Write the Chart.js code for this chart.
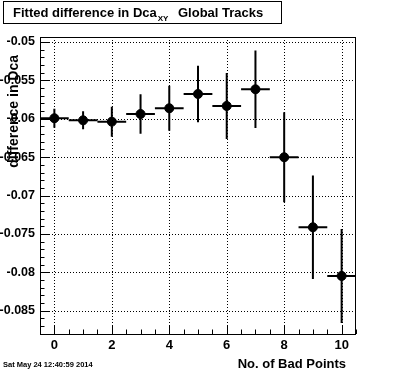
<!DOCTYPE html>
<html>
<head>
<meta charset="utf-8">
<script src="https://cdn.jsdelivr.net/npm/chart.js@4/dist/chart.umd.min.js"></script>
<style>
  html, body { margin: 0; padding: 0; background: #fff; }
  #wrap { width: 396px; height: 372px; position: relative; }
</style>
</head>
<body>
<div id="wrap"><canvas id="chart" width="396" height="372"></canvas></div>
<script>
// values
const badPoints = [0, 1, 2, 3, 4, 5, 6, 7, 8, 9, 10];
const dcaDiff = [-0.05993, -0.0602, -0.06038, -0.05938, -0.05863, -0.05677, -0.05833, -0.05616, -0.06501, -0.07413, -0.08047];
const dcaErr = [0.00124, 0.00117, 0.00195, 0.00256, 0.00294, 0.00368, 0.0043, 0.00505, 0.00586, 0.00673, 0.00612];
const binHalfWidth = 0.5;

const xTickValues = [0, 2, 4, 6, 8, 10];
const yTickValues = [-0.085, -0.08, -0.075, -0.07, -0.065, -0.06, -0.055, -0.05];
const yTickLabels = ['-0.085', '-0.08', '-0.075', '-0.07', '-0.065', '-0.06', '-0.055', '-0.05'];

const titleText = 'Fitted difference in Dca';
const titleSub = 'XY';
const titleRest = 'Global Tracks';
const xTitle = 'No. of Bad Points';
const yTitle = 'difference in Dca';
const dateText = 'Sat May 24 12:40:59 2014';

const FONT = '"Liberation Sans", Arial, Helvetica, sans-serif';

const rootFrame = {
    id: 'rootFrame',
    beforeDatasetsDraw: (chart) => {
        const { ctx, chartArea, scales } = chart;
        const x = scales.x, y = scales.y;
        const L = chartArea.left, R = chartArea.right, T = chartArea.top, B = chartArea.bottom;

        ctx.save();
        // dotted grid
        ctx.strokeStyle = '#000';
        ctx.lineWidth = 1;
        ctx.setLineDash([1, 2]);
        xTickValues.forEach((v) => {
            const px = Math.round(x.getPixelForValue(v)) + 0.5;
            ctx.beginPath(); ctx.moveTo(px, T); ctx.lineTo(px, B); ctx.stroke();
        });
        yTickValues.forEach((v) => {
            const py = Math.round(y.getPixelForValue(v)) + 0.5;
            ctx.beginPath(); ctx.moveTo(L, py); ctx.lineTo(R, py); ctx.stroke();
        });
        ctx.setLineDash([]);

        // ticks inside frame
        ctx.beginPath();
        for (let v = -0.5; v <= 10.5 + 1e-9; v += 0.5) {
            const px = Math.round(x.getPixelForValue(v)) + 0.5;
            const major = Math.abs(v / 2 - Math.round(v / 2)) < 1e-6;
            ctx.moveTo(px, B); ctx.lineTo(px, B - (major ? 9 : 4.5));
        }
        for (let k = -88; k <= -49; k++) {
            const v = k / 1000;
            if (v < y.min || v > y.max) continue;
            const py = Math.round(y.getPixelForValue(v)) + 0.5;
            const major = k % 5 === 0;
            ctx.moveTo(L, py); ctx.lineTo(L + (major ? 9 : 4.5), py);
        }
        ctx.stroke();

        // error bars
        ctx.beginPath();
        ctx.rect(L, T, R - L, B - T);
        ctx.clip();
        ctx.lineWidth = 2;
        ctx.beginPath();
        badPoints.forEach((b, i) => {
            const cx = x.getPixelForValue(b);
            const cy = y.getPixelForValue(dcaDiff[i]);
            ctx.moveTo(x.getPixelForValue(b - binHalfWidth), cy);
            ctx.lineTo(x.getPixelForValue(b + binHalfWidth), cy);
            ctx.moveTo(cx, y.getPixelForValue(dcaDiff[i] + dcaErr[i]));
            ctx.lineTo(cx, y.getPixelForValue(dcaDiff[i] - dcaErr[i]));
        });
        ctx.stroke();
        ctx.restore();
    },
    afterDraw: (chart) => {
        const { ctx, chartArea } = chart;
        ctx.save();
        // frame
        ctx.strokeStyle = '#000';
        ctx.lineWidth = 1;
        ctx.strokeRect(chartArea.left + 0.5, chartArea.top + 0.5,
            chartArea.right - chartArea.left - 1, chartArea.bottom - chartArea.top);

        // title box
        ctx.strokeRect(3.5, 1.5, 278, 22);
        ctx.fillStyle = '#000';
        ctx.textBaseline = 'alphabetic';
        ctx.textAlign = 'left';
        ctx.font = 'bold 13px ' + FONT;
        ctx.fillText(titleText, 13, 17);
        let w = ctx.measureText(titleText).width;
        ctx.font = 'bold 8px ' + FONT;
        ctx.fillText(titleSub, 13 + w + 1, 21);
        ctx.font = 'bold 13px ' + FONT;
        ctx.fillText(titleRest, 178, 17);

        // axis titles
        ctx.font = 'bold 13px ' + FONT;
        ctx.textAlign = 'right';
        ctx.fillText(xTitle, 346, 368);
        ctx.save();
        ctx.translate(18, 55);
        ctx.rotate(-Math.PI / 2);
        ctx.font = 'bold 14px ' + FONT;
        ctx.fillText(yTitle, 0, 0);
        ctx.restore();

        // date stamp
        ctx.textAlign = 'left';
        ctx.font = 'bold 7.5px ' + FONT;
        ctx.fillText(dateText, 3, 367);
        ctx.restore();
    },
};

const config = {
    type: 'scatter',
    data: {
        datasets: [{
            data: badPoints.map((b, i) => ({ x: b, y: dcaDiff[i] })),
            backgroundColor: '#000',
            borderColor: '#000',
            pointRadius: 4.5,
            pointHoverRadius: 4.5,
        }],
    },
    options: {
        responsive: false,
        animation: false,
        events: [],
        layout: {
            padding: { top: 37, left: 0, right: 40, bottom: 0 },
        },
        plugins: {
            legend: { display: false },
            tooltip: { enabled: false },
        },
        scales: {
            x: {
                type: 'linear',
                min: -0.5,
                max: 10.5,
                grid: { display: false, drawTicks: false },
                border: { display: false },
                afterBuildTicks: (scale) => {
                    scale.ticks = xTickValues.map((v) => ({ value: v }));
                },
                afterFit: (scale) => { scale.height = 38; },
                ticks: {
                    color: '#000',
                    padding: 4,
                    maxRotation: 0,
                    autoSkip: false,
                    font: { family: FONT, size: 13, weight: 'bold' },
                    callback: (v) => String(v),
                },
            },
            y: {
                type: 'linear',
                min: -0.08803,
                max: -0.04935,
                grid: { display: false, drawTicks: false },
                border: { display: false },
                afterBuildTicks: (scale) => {
                    scale.ticks = yTickValues.map((v) => ({ value: v }));
                },
                afterFit: (scale) => { scale.width = 40; },
                ticks: {
                    color: '#000',
                    padding: 5,
                    autoSkip: false,
                    font: { family: FONT, size: 12.5, weight: 'bold' },
                    callback: (v, i) => yTickLabels[i],
                },
            },
        },
    },
    plugins: [rootFrame],
};

new Chart(document.getElementById('chart'), config);
</script>
</body>
</html>
